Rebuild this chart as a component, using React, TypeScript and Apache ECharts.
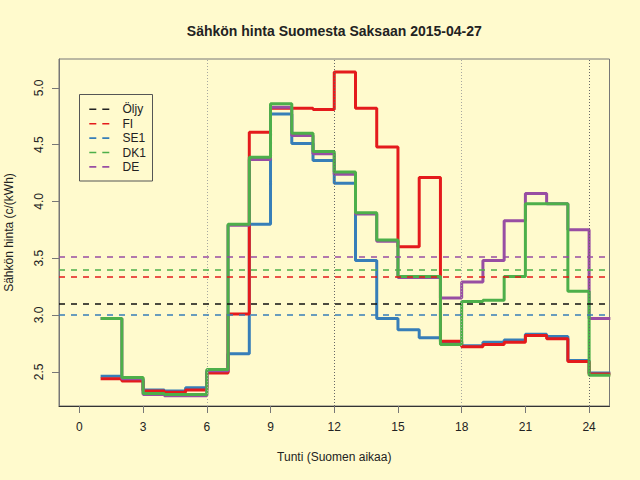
import React, { useEffect, useRef } from "react";
import * as echarts from "echarts";

const BG = "#FFFACD";
const FONT = "'Liberation Sans', Arial, sans-serif";

const hours = [1, 2, 3, 4, 5, 6, 7, 8, 9, 10, 11, 12, 13, 14, 15, 16, 17, 18, 19, 20, 21, 22, 23, 24];
const fi = [2.44, 2.42, 2.33, 2.32, 2.34, 2.49, 3.01, 4.61, 4.82, 4.82, 4.81, 5.14, 4.82, 4.48, 3.6, 4.21, 2.77, 2.72, 2.74, 2.76, 2.82, 2.79, 2.59, 2.48];
const se1 = [2.46, 2.43, 2.34, 2.33, 2.36, 2.5, 2.66, 3.8, 4.77, 4.51, 4.36, 4.16, 3.48, 2.97, 2.87, 2.8, 2.76, 2.73, 2.76, 2.78, 2.83, 2.81, 2.6, 2.49];
const dk1 = [2.97, 2.45, 2.31, 2.3, 2.3, 2.52, 3.8, 4.39, 4.86, 4.6, 4.44, 4.26, 3.9, 3.66, 3.34, 3.34, 2.74, 3.12, 3.13, 3.34, 3.98, 3.98, 3.21, 2.47];
const de = [2.97, 2.44, 2.3, 2.29, 2.29, 2.51, 3.79, 4.37, 4.83, 4.58, 4.42, 4.24, 3.89, 3.65, 3.33, 3.33, 3.15, 3.29, 3.48, 3.83, 4.07, 3.98, 3.75, 2.97];

// daily reference (dashed) levels
const oljyRef = 3.1;
const fiRef = 3.34;
const se1Ref = 3.0;
const dk1Ref = 3.4;
const deRef = 3.51;

const xTicks = [0, 3, 6, 9, 12, 15, 18, 21, 24];
const yTicks = [2.5, 3.0, 3.5, 4.0, 4.5, 5.0];
const vLines = [6, 12, 18, 24];

const legendNames = ["Öljy", "FI", "SE1", "DK1", "DE"];
const legendColors = ["#222222", "#E41A1C", "#377EB8", "#4DAF4A", "#984EA3"];

const C_FI = "#E41A1C";
const C_SE = "#377EB8";
const C_DK = "#4DAF4A";
const C_DE = "#984EA3";

function stepData(vals: number[]) {
  const d = hours.map((h, i) => [h, vals[i]]);
  d.push([hours[hours.length - 1] + 1, vals[vals.length - 1]]);
  return d;
}

function stepSeries(name: string, vals: number[], color: string, extra: any = {}) {
  return {
    name,
    type: "line",
    step: "end",
    data: stepData(vals),
    showSymbol: false,
    symbol: "none",
    clip: true,
    lineStyle: { color, width: 3 },
    itemStyle: { color },
    silent: true,
    ...extra,
  };
}

export default function App() {
  const ref = useRef<HTMLDivElement>(null);
  useEffect(() => {
    document.body.style.margin = "0";
    document.body.style.background = BG;
    const chart = echarts.init(ref.current!, null, { renderer: "svg" });

    const dash = (color: string) => ({ color, type: [6, 6], width: 1.5 });
    const markLineData: any[] = [
      ...vLines.map((v, i) => ({
        xAxis: v,
        lineStyle: { color: i % 2 === 0 ? "#a8a8a0" : "#666666", type: [1, 2], width: 1 },
      })),
      { yAxis: deRef, lineStyle: dash(C_DE) },
      { yAxis: dk1Ref, lineStyle: dash(C_DK) },
      { yAxis: fiRef, lineStyle: dash(C_FI) },
      { yAxis: oljyRef, lineStyle: dash("#111111") },
      { yAxis: se1Ref, lineStyle: dash(C_SE) },
    ];

    const legendGraphics: any[] = [
      {
        type: "rect",
        shape: { x: 79.5, y: 94.5, width: 73, height: 86.5 },
        style: { fill: "none", stroke: "#555", lineWidth: 1 },
        z: 100,
      },
    ];
    legendNames.forEach((n, i) => {
      const y = 109.3 + i * 14.4;
      legendGraphics.push({
        type: "line",
        shape: { x1: 89.3, y1: y, x2: 109.3, y2: y },
        style: { stroke: legendColors[i], lineWidth: 1.6, lineDash: [7, 6] },
        z: 100,
      });
      legendGraphics.push({
        type: "text",
        x: 122.5,
        y: y,
        style: {
          text: n,
          fill: "#222",
          font: `12px ${FONT}`,
          textAlign: "left",
          textVerticalAlign: "middle",
        },
        z: 100,
      });
    });

    const option: any = {
      animation: false,
      backgroundColor: BG,
      textStyle: { fontFamily: FONT },
      grid: {
        left: 59,
        right: 30.5,
        top: 59,
        bottom: 74,
        containLabel: false,
        outerBoundsMode: "none",
        show: true,
        backgroundColor: "transparent",
        borderColor: "#777",
        borderWidth: 1,
      },
      xAxis: {
        type: "value",
        min: -0.96,
        max: 24.96,
        name: "Tunti (Suomen aikaa)",
        nameLocation: "middle",
        nameGap: 45,
        nameTextStyle: { fontSize: 12, color: "#222", fontFamily: FONT },
        axisLine: { show: true, onZero: false, lineStyle: { color: "#333", width: 1 } },
        axisTick: { show: true, length: 7, customValues: xTicks, lineStyle: { color: "#777" } },
        axisLabel: {
          customValues: xTicks,
          margin: 15,
          fontSize: 12,
          color: "#222",
          fontFamily: FONT,
          showMinLabel: true,
          showMaxLabel: true,
        },
        splitLine: { show: false },
      },
      yAxis: {
        type: "value",
        min: 2.199,
        max: 5.254,
        name: "Sähkön hinta (c/(kWh)",
        nameLocation: "middle",
        nameRotate: 90,
        nameGap: 44,
        nameTextStyle: { fontSize: 12, color: "#222", fontFamily: FONT },
        axisLine: { show: true, onZero: false, lineStyle: { color: "#777", width: 1 } },
        axisTick: { show: true, length: 7, customValues: yTicks, lineStyle: { color: "#777" } },
        axisLabel: {
          customValues: yTicks,
          rotate: 90,
          margin: 14,
          fontSize: 12,
          color: "#222",
          fontFamily: FONT,
          formatter: (v: number) => v.toFixed(1),
        },
        splitLine: { show: false },
      },
      graphic: [
        {
          type: "text",
          x: 334.3,
          y: 30.5,
          style: {
            text: "Sähkön hinta Suomesta Saksaan 2015-04-27",
            fill: "#222",
            font: `bold 14px ${FONT}`,
            textAlign: "center",
            textVerticalAlign: "middle",
          },
        },
        ...legendGraphics,
      ],
      series: [
        stepSeries("SE1", se1, C_SE, {
          markLine: {
            silent: true,
            symbol: ["none", "none"],
            label: { show: false },
            animation: false,
            data: markLineData,
          },
        }),
        stepSeries("FI", fi, C_FI),
        stepSeries("DE", de, C_DE),
        stepSeries("DK1", dk1, C_DK),
      ],
    };
    chart.setOption(option);
    return () => chart.dispose();
  }, []);
  return <div ref={ref} style={{ width: 640, height: 480 }} />;
}
